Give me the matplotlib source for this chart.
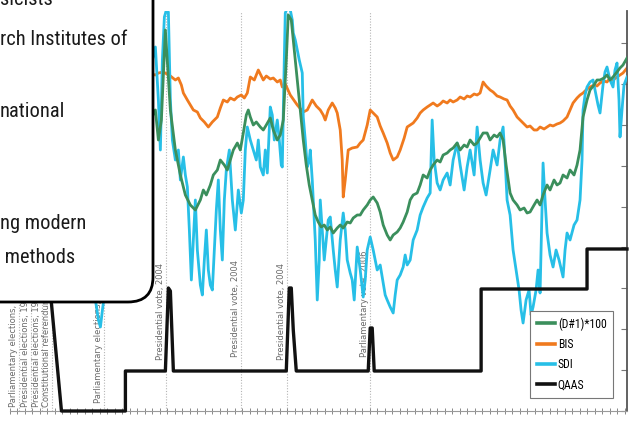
import numpy as np
import matplotlib
matplotlib.use("Agg")
import matplotlib.pyplot as plt
from matplotlib.patches import FancyBboxPatch
from matplotlib.lines import Line2D
from matplotlib import font_manager as fm

# ---------------- data (time index, level) ----------------
bis_x = [10, 40, 70, 100, 130, 155, 158, 163, 170, 175, 178, 181, 183, 187, 190, 193, 197, 200, 204, 208,
         212, 217, 220, 223, 227, 230, 234, 237, 241, 244, 247, 250, 254, 258, 261, 263, 266, 270, 273, 277,
         280, 282, 285, 290, 297, 303, 307, 310, 312, 316, 320, 323, 325, 328, 332, 335, 337, 340, 342, 343,
         345, 348, 352, 357, 360, 363, 367, 370, 373, 377, 380, 383, 387, 390, 393, 397, 400, 404, 407, 410,
         413, 417, 420, 423, 427, 430, 433, 437, 440, 443, 447, 450, 453, 457, 460, 464, 467, 470, 474, 477,
         480, 483, 486, 490, 493, 497, 500, 504, 507, 510, 513, 517, 520, 524, 527, 530, 534, 537, 540, 544,
         547, 550, 553, 557, 560, 563, 567, 570, 573, 577, 580, 583, 587, 590, 594, 597, 600, 604, 607, 610,
         613, 617, 620, 623, 627]
bis_y = [321, 331, 316, 326, 341, 336, 338, 339, 335, 331, 333, 326, 318, 311, 306, 301, 299, 293, 289, 284,
         289, 294, 303, 311, 309, 313, 311, 314, 316, 313, 318, 334, 331, 341, 335, 331, 335, 332, 333, 329,
         331, 324, 327, 316, 306, 299, 301, 307, 311, 305, 301, 296, 291, 301, 308, 303, 298, 281, 251, 214,
         231, 261, 263, 264, 268, 271, 286, 301, 298, 294, 285, 278, 268, 258, 251, 254, 261, 273, 284, 286,
         288, 293, 298, 301, 304, 306, 308, 305, 307, 310, 308, 311, 309, 311, 314, 312, 315, 314, 317, 316,
         318, 329, 325, 321, 319, 315, 314, 312, 311, 305, 301, 294, 291, 287, 284, 285, 281, 281, 284, 282,
         284, 286, 285, 287, 288, 290, 294, 301, 308, 313, 316, 318, 322, 324, 326, 325, 328, 330, 329, 333,
         331, 334, 336, 338, 343]

d1_x = [10, 40, 70, 100, 130, 150, 155, 158, 161, 165, 170, 175, 180, 185, 190, 195, 200, 203, 206, 210,
        213, 217, 220, 224, 227, 230, 233, 237, 240, 243, 246, 248, 250, 253, 256, 260, 263, 266, 270, 273,
        277, 280, 283, 286, 288, 291, 294, 297, 300, 303, 306, 309, 312, 315, 318, 321, 324, 327, 330, 333,
        337, 340, 343, 347, 350, 353, 357, 360, 363, 367, 370, 373, 377, 380, 383, 387, 390, 393, 397, 400,
        403, 407, 410, 413, 417, 420, 423, 427, 430, 433, 437, 440, 443, 447, 450, 453, 457, 460, 464, 467,
        470, 474, 477, 480, 483, 487, 490, 494, 497, 500, 503, 506, 510, 513, 517, 520, 524, 527, 530, 534,
        537, 540, 543, 547, 550, 554, 557, 560, 563, 567, 570, 574, 577, 580, 583, 587, 590, 594, 597, 600,
        604, 607, 610, 613, 617, 620, 623, 627]
d1_y = [261, 241, 211, 181, 231, 291, 301, 271, 291, 381, 301, 261, 236, 216, 206, 201, 211, 221, 216, 226,
        236, 241, 251, 246, 241, 251, 261, 268, 261, 278, 296, 301, 294, 286, 289, 284, 281, 286, 293, 281,
        271, 276, 291, 351, 396, 391, 361, 331, 301, 271, 246, 226, 211, 196, 189, 184, 186, 181, 184, 178,
        183, 186, 183, 189, 188, 193, 196, 196, 201, 206, 211, 214, 208, 199, 186, 176, 171, 176, 179, 183,
        189, 199, 211, 216, 218, 226, 236, 233, 241, 246, 251, 249, 256, 258, 261, 263, 268, 261, 266, 264,
        271, 266, 268, 273, 278, 278, 271, 276, 274, 278, 271, 246, 218, 211, 206, 201, 203, 198, 199, 206,
        211, 206, 216, 226, 221, 231, 226, 228, 236, 233, 241, 236, 246, 261, 294, 311, 321, 326, 331, 331,
        333, 336, 331, 334, 339, 343, 346, 353]

sdi_x = [10, 25, 40, 55, 70, 80, 90, 95, 98, 100, 102, 106, 115, 125, 135, 145, 152, 155, 158, 160,
         162, 164, 166, 168, 170, 172, 175, 178, 180, 183, 185, 187, 189, 191, 193, 195, 197, 200, 202, 204,
         206, 208, 210, 212, 214, 216, 218, 220, 222, 224, 226, 229, 232, 235, 238, 241, 243, 245, 247, 250,
         253, 256, 258, 260, 263, 265, 267, 269, 270, 272, 274, 277, 279, 281, 282, 284, 285, 287, 290, 292,
         293, 295, 297, 299, 302, 303, 305, 307, 309, 310, 312, 313, 315, 317, 319, 320, 322, 324, 326, 328,
         330, 333, 335, 337, 340, 343, 345, 347, 350, 352, 354, 357, 360, 363, 365, 367, 370, 373, 377, 380,
         383, 385, 387, 390, 393, 395, 397, 400, 403, 405, 407, 410, 413, 417, 420, 423, 427, 430, 432, 434,
         437, 440, 443, 447, 450, 453, 457, 460, 464, 467, 470, 474, 477, 480, 483, 486, 490, 493, 497, 500,
         503, 505, 507, 510, 513, 516, 519, 521, 523, 526, 529, 531, 533, 536, 538, 540, 543, 545, 547, 550,
         553, 556, 559, 563, 565, 567, 570, 574, 577, 580, 582, 583, 585, 587, 590, 593, 596, 598, 600, 603,
         605, 607, 610, 613, 615, 617, 619, 620, 622, 624, 627]
sdi_y = [291, 241, 271, 211, 231, 171, 131, 111, 91, 84, 101, 131, 171, 211, 241, 291, 351, 364, 311, 261,
         351, 394, 401, 399, 311, 271, 251, 261, 231, 254, 236, 224, 181, 131, 171, 211, 161, 126, 116, 151,
         181, 141, 126, 121, 161, 201, 231, 181, 151, 211, 241, 261, 211, 181, 221, 198, 211, 261, 284, 271,
         261, 251, 271, 244, 236, 261, 238, 281, 304, 296, 271, 291, 271, 246, 244, 351, 398, 403, 401, 391,
         378, 371, 361, 351, 338, 294, 271, 244, 251, 261, 231, 211, 171, 111, 151, 211, 181, 151, 171, 191,
         194, 161, 141, 124, 171, 198, 181, 151, 138, 131, 111, 164, 141, 114, 131, 161, 174, 161, 141, 146,
         128, 116, 111, 104, 98, 116, 131, 136, 144, 156, 146, 151, 171, 181, 196, 204, 213, 218, 291, 251,
         228, 221, 231, 238, 226, 251, 268, 246, 221, 244, 261, 236, 284, 251, 228, 216, 241, 261, 246, 271,
         284, 251, 211, 196, 161, 141, 121, 101, 88, 111, 121, 96, 104, 121, 141, 118, 248, 211, 178, 156,
         144, 161, 151, 134, 161, 178, 171, 186, 191, 211, 251, 301, 316, 324, 329, 331, 316, 306, 298, 326,
         339, 344, 331, 324, 341, 348, 311, 274, 301, 326, 334]

qaas_x = [10, 46, 61, 125, 125, 165, 168, 170, 173, 286, 289, 291, 293, 296, 368, 370, 372, 374,
          481, 481, 587, 587, 627]
qaas_y = [161, 161, 0, 0, 40, 40, 123, 120, 40, 40, 123, 123, 81, 40, 40, 83, 83, 40,
          40, 122, 122, 162, 162]

event_x = [19, 31, 42, 52, 104, 166, 241, 287, 370]
event_label = ["Parliamentary elections, 1998",
               "Presidential elections, 1999",
               "Presidential elections, 1999",
               "Constitutional referendum",
               "Parliamentary elections, 2002",
               "Presidential vote, 2004",
               "Presidential vote, 2004",
               "Presidential vote, 2004",
               "Parliamentary vote, 2006"]
event_label_base = [4, 4, 4, 4, 8, 51, 54, 51, 54]

series_names = ["(D#1)*100", "BIS", "SDI", "QAAS"]
series_colors = ["#3b8f5c", "#f07a1e", "#27bfe7", "#111111"]

# visible parts of the slide's callout text
box_lines = ["sicists", "rch Institutes of", "national", "ng modern", " methods"]

# ---------------- pick a condensed font if one is installed ----------------
def pick_narrow():
    good = []
    for f in fm.fontManager.ttflist:
        st = f.stretch
        narrow = ("Narrow" in f.name or "Condensed" in f.name or
                  st in ("condensed", "semi-condensed", "extra-condensed", "ultra-condensed") or
                  (isinstance(st, (int, float)) and st < 500))
        if narrow and f.style == "normal" and str(f.weight) in ("400", "normal", "regular", "book"):
            good.append(f)
    pref = ["Liberation Sans Narrow", "Roboto Condensed", "Open Sans Condensed",
            "Noto Sans", "DejaVu Sans"]
    good.sort(key=lambda f: pref.index(f.name) if f.name in pref else len(pref))
    if good:
        return fm.FontProperties(fname=good[0].fname)
    return fm.FontProperties(family="DejaVu Sans")

narrow_fp = pick_narrow()

# ---------------- figure ----------------
fig = plt.figure(figsize=(6.31, 4.25), dpi=100)
fig.patch.set_facecolor("white")
ax = fig.add_axes([10 / 631, 14 / 425, 617 / 631, 400 / 425])
ax.set_xlim(10, 627)
ax.set_ylim(0, 400)

for xv, lab, base in zip(event_x, event_label, event_label_base):
    ax.axvline(xv, color="#b5b5b5", lw=0.8, ls=(0, (1, 1.5)), zorder=1)
    ax.text(xv - 1.5, base, lab, rotation=90, ha="right", va="bottom",
            fontsize=6, color="#6a6a6a", zorder=1.5)

ax.plot(bis_x, bis_y, color=series_colors[1], lw=2.0, zorder=2)
ax.plot(sdi_x, sdi_y, color=series_colors[2], lw=2.0, zorder=3)
ax.plot(d1_x, d1_y, color=series_colors[0], lw=2.0, zorder=4)
ax.plot(qaas_x, qaas_y, color=series_colors[3], lw=2.4, zorder=5, clip_on=False)

for s in ["top", "left"]:
    ax.spines[s].set_visible(False)
ax.spines["right"].set_color("#555555")
ax.spines["right"].set_linewidth(1.3)
ax.spines["bottom"].set_color("#9a9a9a")
ax.spines["bottom"].set_linewidth(0.8)
ax.yaxis.tick_right()
ax.set_yticks(np.arange(0, 400, 40.9))
ax.tick_params(axis="y", direction="in", length=4, color="#777777", labelright=False, labelleft=False)
ax.set_xticks(np.arange(9.5, 628, 7.5))
ax.tick_params(axis="x", direction="inout", length=5, width=0.7, color="#888888", labelbottom=False)

renderer = fig.canvas.get_renderer()

leg_fp = narrow_fp.copy()
leg_fp.set_size(8.5)

handles = [Line2D([], [], color=c, lw=2.6) for c in series_colors]
leg = ax.legend(handles, series_names, loc="lower right",
                bbox_to_anchor=((613 - 10) / 617, 13 / 400), borderaxespad=0,
                prop=leg_fp, handlelength=1.6, handletextpad=0.2, labelspacing=0.62,
                borderpad=0.55, fancybox=False, framealpha=1, edgecolor="#777777")
leg.get_frame().set_linewidth(0.8)
leg.set_zorder(6)

# overlaid callout box of the slide
box = FancyBboxPatch((-0.6, 1.23), 2.13, 3.8,
                     boxstyle="round,pad=0,rounding_size=0.25",
                     transform=fig.dpi_scale_trans, facecolor="white",
                     edgecolor="black", lw=2.0, zorder=10)
fig.add_artist(box)

# callout font size fitted so "rch Institutes of" is ~127 px wide
probe = fig.text(0, 0, box_lines[1], fontproperties=narrow_fp, fontsize=16)
box_size = 16 * 127.0 / probe.get_window_extent(renderer).width
probe.remove()
box_fp = narrow_fp.copy()
box_fp.set_size(box_size)

text_left = [0.0, 0.0, 0.0, 0.0, 0.0]
text_base = [4.20, 3.80, 3.08, 1.96, 1.62]
for line, xl, yb in zip(box_lines, text_left, text_base):
    fig.text(xl, yb, line, transform=fig.dpi_scale_trans, ha="left", va="baseline",
             fontproperties=box_fp, color="#1a1a1a", zorder=11)

fig.savefig("out.png", dpi=100)
